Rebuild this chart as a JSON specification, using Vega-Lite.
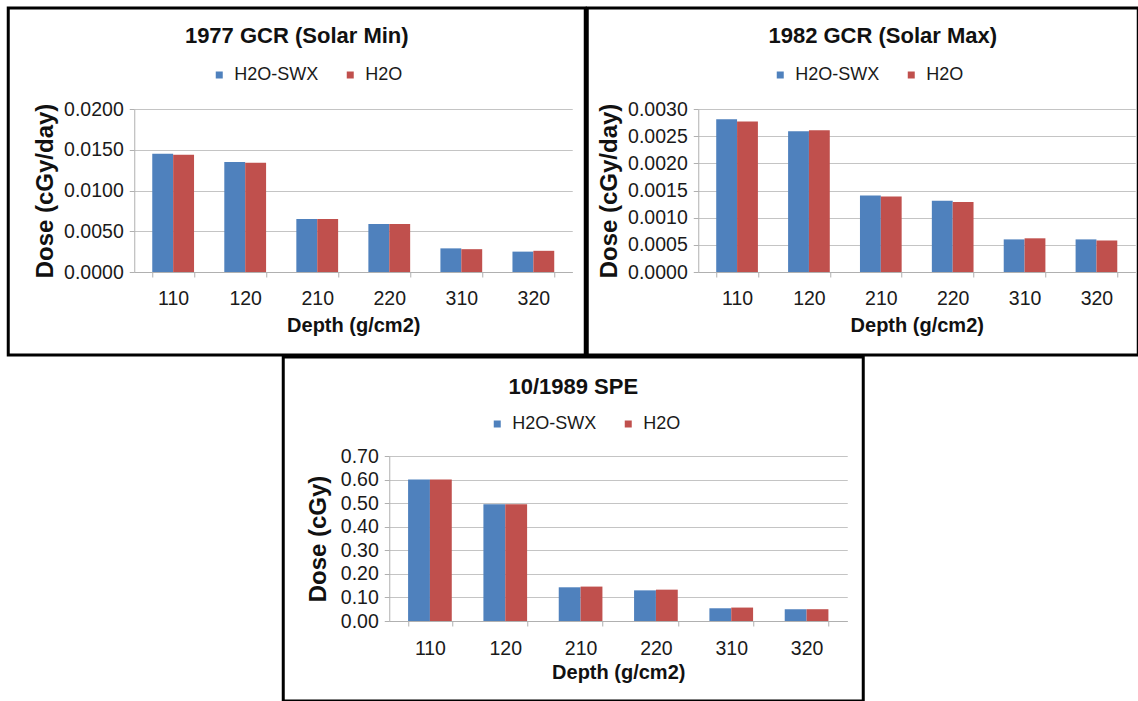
{
  "$schema": "https://vega.github.io/schema/vega-lite/v6.json",
  "padding": {"left": 6, "top": 6, "right": 0, "bottom": 0},
  "background": "white",
  "config": {
    "font": "Liberation Sans",
    "view": {"stroke": "black", "strokeWidth": 3},
    "axis": {
      "labelFont": "Liberation Sans", "labelFontSize": 19.5, "labelColor": "#1a1a1a",
      "titleFont": "Liberation Sans", "titleFontSize": 20, "titleFontWeight": "bold", "titleColor": "#111111",
      "domainColor": "#b0b0b0", "tickColor": "#b0b0b0", "gridColor": "#c4c4c4", "tickSize": 5
    },
    "axisY": {"titleFontSize": 24, "labelPadding": 6},
    "axisX": {"labelPadding": 12, "titlePadding": 8},
    "legend": {
      "labelFont": "Liberation Sans", "labelFontSize": 18, "labelColor": "#1a1a1a",
      "symbolType": "square", "symbolSize": 49, "symbolStrokeWidth": 0, "labelOffset": 6, "columnPadding": 22
    },
    "title": {"font": "Liberation Sans", "fontSize": 22, "fontWeight": "bold", "color": "#111111", "anchor": "middle", "frame": "group"}
  },
  "datasets": {
    "gcr1977": [
      {"depth": "110", "series": "H2O-SWX", "dose": 0.0145}, {"depth": "110", "series": "H2O", "dose": 0.0144},
      {"depth": "120", "series": "H2O-SWX", "dose": 0.0135}, {"depth": "120", "series": "H2O", "dose": 0.0134},
      {"depth": "210", "series": "H2O-SWX", "dose": 0.0065}, {"depth": "210", "series": "H2O", "dose": 0.0065},
      {"depth": "220", "series": "H2O-SWX", "dose": 0.0059}, {"depth": "220", "series": "H2O", "dose": 0.0059},
      {"depth": "310", "series": "H2O-SWX", "dose": 0.0029}, {"depth": "310", "series": "H2O", "dose": 0.0028},
      {"depth": "320", "series": "H2O-SWX", "dose": 0.0025}, {"depth": "320", "series": "H2O", "dose": 0.0026}
    ],
    "gcr1982": [
      {"depth": "110", "series": "H2O-SWX", "dose": 0.00281}, {"depth": "110", "series": "H2O", "dose": 0.00277},
      {"depth": "120", "series": "H2O-SWX", "dose": 0.00259}, {"depth": "120", "series": "H2O", "dose": 0.00261},
      {"depth": "210", "series": "H2O-SWX", "dose": 0.00141}, {"depth": "210", "series": "H2O", "dose": 0.00139},
      {"depth": "220", "series": "H2O-SWX", "dose": 0.00131}, {"depth": "220", "series": "H2O", "dose": 0.00129},
      {"depth": "310", "series": "H2O-SWX", "dose": 0.00060}, {"depth": "310", "series": "H2O", "dose": 0.00062},
      {"depth": "320", "series": "H2O-SWX", "dose": 0.00060}, {"depth": "320", "series": "H2O", "dose": 0.00058}
    ],
    "spe1989": [
      {"depth": "110", "series": "H2O-SWX", "dose": 0.600}, {"depth": "110", "series": "H2O", "dose": 0.600},
      {"depth": "120", "series": "H2O-SWX", "dose": 0.495}, {"depth": "120", "series": "H2O", "dose": 0.495},
      {"depth": "210", "series": "H2O-SWX", "dose": 0.143}, {"depth": "210", "series": "H2O", "dose": 0.146},
      {"depth": "220", "series": "H2O-SWX", "dose": 0.130}, {"depth": "220", "series": "H2O", "dose": 0.133},
      {"depth": "310", "series": "H2O-SWX", "dose": 0.054}, {"depth": "310", "series": "H2O", "dose": 0.057},
      {"depth": "320", "series": "H2O-SWX", "dose": 0.050}, {"depth": "320", "series": "H2O", "dose": 0.050}
    ]
  },
  "spacing": -3,
  "center": true,
  "resolve": {"scale": {"color": "independent", "xOffset": "independent"}, "legend": {"color": "independent"}},
  "vconcat": [
    {
      "spacing": -3,
      "resolve": {"scale": {"color": "independent", "xOffset": "independent"}, "legend": {"color": "independent"}},
      "hconcat": [
        {
          "width": 577, "height": 347,
          "data": {"name": "gcr1977"},
          "title": {"text": "1977 GCR (Solar Min)", "offset": -40},
          "mark": {"type": "bar"},
          "encoding": {
            "x": {"field": "depth", "type": "nominal", "sort": ["110", "120", "210", "220", "310", "320"],
              "scale": {"range": [126, 564], "paddingInner": 0.42, "paddingOuter": 0.25},
              "axis": {"title": "Depth (g/cm2)", "labelAngle": 0, "offset": -83, "tickBand": "extent", "grid": false}},
            "xOffset": {"field": "series", "type": "nominal", "sort": ["H2O-SWX", "H2O"], "scale": {"paddingInner": 0, "paddingOuter": 0}},
            "y": {"field": "dose", "type": "quantitative",
              "scale": {"domain": [0, 0.02], "range": [264, 101], "nice": false},
              "axis": {"title": "Dose (cGy/day)", "offset": -126, "values": [0, 0.005, 0.01, 0.015, 0.02], "format": ".4f", "titlePadding": 6}},
            "color": {"field": "series", "type": "nominal", "scale": {"domain": ["H2O-SWX", "H2O"], "range": ["#4F81BD", "#C0504D"]},
              "legend": {"orient": "none", "legendX": 202, "legendY": 58, "direction": "horizontal", "title": null}}
          }
        },
        {
          "width": 551, "height": 347,
          "data": {"name": "gcr1982"},
          "title": {"text": "1982 GCR (Solar Max)", "offset": -40, "dx": 20},
          "mark": {"type": "bar"},
          "encoding": {
            "x": {"field": "depth", "type": "nominal", "sort": ["110", "120", "210", "220", "310", "320"],
              "scale": {"range": [111, 548], "paddingInner": 0.42, "paddingOuter": 0.25},
              "axis": {"title": "Depth (g/cm2)", "labelAngle": 0, "offset": -83, "tickBand": "extent", "grid": false}},
            "xOffset": {"field": "series", "type": "nominal", "sort": ["H2O-SWX", "H2O"], "scale": {"paddingInner": 0, "paddingOuter": 0}},
            "y": {"field": "dose", "type": "quantitative",
              "scale": {"domain": [0, 0.003], "range": [264, 101], "nice": false},
              "axis": {"title": "Dose (cGy/day)", "offset": -111, "values": [0, 0.0005, 0.001, 0.0015, 0.002, 0.0025, 0.003], "format": ".4f", "titlePadding": 6}},
            "color": {"field": "series", "type": "nominal", "scale": {"domain": ["H2O-SWX", "H2O"], "range": ["#4F81BD", "#C0504D"]},
              "legend": {"orient": "none", "legendX": 184, "legendY": 58, "direction": "horizontal", "title": null}}
          }
        }
      ]
    },
    {
      "width": 580, "height": 344,
      "data": {"name": "spe1989"},
      "title": {"text": "10/1989 SPE", "offset": -42},
      "mark": {"type": "bar"},
      "encoding": {
        "x": {"field": "depth", "type": "nominal", "sort": ["110", "120", "210", "220", "310", "320"],
          "scale": {"range": [106, 564], "paddingInner": 0.42, "paddingOuter": 0.25},
          "axis": {"title": "Depth (g/cm2)", "labelAngle": 0, "offset": -80, "tickBand": "extent", "grid": false, "labelPadding": 13, "titlePadding": 5}},
        "xOffset": {"field": "series", "type": "nominal", "sort": ["H2O-SWX", "H2O"], "scale": {"paddingInner": 0, "paddingOuter": 0}},
        "y": {"field": "dose", "type": "quantitative",
          "scale": {"domain": [0, 0.7], "range": [264, 99], "nice": false},
          "axis": {"title": "Dose (cGy)", "offset": -106, "values": [0, 0.1, 0.2, 0.3, 0.4, 0.5, 0.6, 0.7], "format": ".2f", "titlePadding": 10}},
        "color": {"field": "series", "type": "nominal", "scale": {"domain": ["H2O-SWX", "H2O"], "range": ["#4F81BD", "#C0504D"]},
          "legend": {"orient": "none", "legendX": 205, "legendY": 58, "direction": "horizontal", "title": null}}
      }
    }
  ]
}
